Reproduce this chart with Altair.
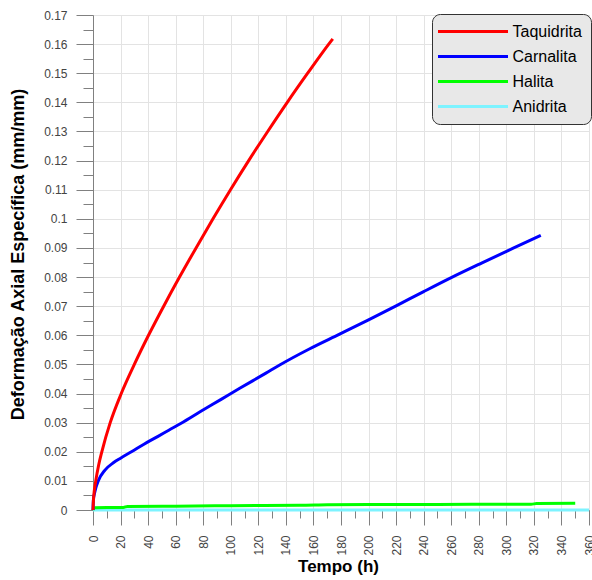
import altair as alt
import pandas as pd

# ---- data ----
series_names = ["Taquidrita", "Carnalita", "Halita", "Anidrita"]
series_colors = ["#ff0000", "#0000ff", "#00ff00", "#7df3ff"]
series_widths = [3, 3, 4, 2]

taq_t = [0, 0.3, 1, 2, 4, 6.4, 12.5, 20.5, 30, 40.3, 51.3, 62.8, 74.8, 87.1, 99.8,
         113, 126.8, 141, 155.8, 171.1, 174]
taq_v = [0, 0.0032, 0.0068, 0.0100, 0.0152, 0.020, 0.030, 0.040, 0.050, 0.060, 0.070,
         0.080, 0.090, 0.100, 0.110, 0.120, 0.130, 0.140, 0.150, 0.160, 0.1618]

car_t = [0, 0.3, 1, 2, 3.8, 8.7, 15, 20, 27.9, 37, 47.2, 55, 64, 78, 93, 106.5, 125.5,
         135.5, 157, 179, 200, 220, 240, 260, 282, 305, 325]
car_v = [0, 0.0035, 0.0055, 0.0075, 0.010, 0.0137, 0.0163, 0.0178, 0.020, 0.0226, 0.0253,
         0.0274, 0.0298, 0.0338, 0.0380, 0.0418, 0.0470, 0.0498, 0.0553, 0.0604, 0.0653,
         0.0701, 0.0750, 0.0798, 0.0848, 0.0899, 0.0943]

hal_t = [0, 1, 10, 22, 25, 60, 100, 150, 170, 200, 250, 300, 318, 322, 350]
hal_v = [0, 0.0008, 0.0009, 0.0009, 0.0012, 0.0013, 0.0015, 0.0016, 0.0018, 0.0019,
         0.0019, 0.0020, 0.0020, 0.0022, 0.0023]

ani_t = [0, 60, 120, 180, 240, 300, 360]
ani_v = [0, 0, 0, 0, 0, 0, 0]

x_tick_values = [0, 10, 20, 30, 40, 50, 60, 70, 80, 90, 100, 110, 120, 130, 140, 150, 160,
                 170, 180, 190, 200, 210, 220, 230, 240, 250, 260, 270, 280, 290, 300, 310,
                 320, 330, 340, 350, 360]
y_tick_values = [0, 0.005, 0.01, 0.015, 0.02, 0.025, 0.03, 0.035, 0.04, 0.045, 0.05, 0.055,
                 0.06, 0.065, 0.07, 0.075, 0.08, 0.085, 0.09, 0.095, 0.1, 0.105, 0.11, 0.115,
                 0.12, 0.125, 0.13, 0.135, 0.14, 0.145, 0.15, 0.155, 0.16, 0.165, 0.17]

rows = []
for name, ts, vs in [("Anidrita", ani_t, ani_v), ("Halita", hal_t, hal_v),
                     ("Carnalita", car_t, car_v), ("Taquidrita", taq_t, taq_v)]:
    for t, v in zip(ts, vs):
        rows.append({"Mineral": name, "Tempo": t, "Def": v})
df = pd.DataFrame(rows)

FONT = "Liberation Sans"
y_major = "round(datum.value*200) % 2 === 0"
x_major = "datum.value % 20 === 0"

y_axis = alt.Axis(
    values=y_tick_values,
    title="Deformação Axial Específica (mm/mm)",
    labelExpr=f"{y_major} ? format(datum.value, '.2~f') : ''",
    tickSize={"condition": {"test": y_major, "value": 17}, "value": 10},
    gridOpacity={"condition": {"test": y_major, "value": 1}, "value": 0},
    labelPadding=9, labelOverlap=False, labelFlush=False,
    labelFontSize=12, labelFont=FONT, labelColor="#444",
    tickColor="#808080", domainColor="#808080", gridColor="#e3e3e3",
    titleFont=FONT, titleFontSize=18, titleFontWeight="bold", titleColor="black",
    titleX=-75, titleY=239, titleBaseline="middle",
)
x_axis = alt.Axis(
    values=x_tick_values,
    title="Tempo (h)",
    labelExpr=f"{x_major} ? datum.label : ''",
    tickSize={"condition": {"test": x_major, "value": 15}, "value": 8},
    gridOpacity={"condition": {"test": x_major, "value": 1}, "value": 0},
    labelAngle=-90, labelPadding=10, labelOverlap=False, labelFlush=False,
    labelFontSize=12, labelFont=FONT, labelColor="#444",
    tickColor="#808080", domainColor="#808080", gridColor="#e3e3e3",
    titleFont=FONT, titleFontSize=17, titleFontWeight="bold", titleColor="black",
    titleX=245, titleY=56, titleBaseline="middle",
)

legend = alt.Legend(
    title=None, orient="none", legendX=339, legendY=-1,
    symbolType="M-5,0H5", symbolSize=196, symbolOffset=23.5,
    labelOffset=31, padding=9, rowPadding=8,
    fillColor="#e8e8e8", strokeColor="#333", cornerRadius=8,
    labelFontSize=16, labelFont=FONT, labelColor="black",
)

chart = alt.Chart(df).mark_line(clip=False, interpolate="monotone").encode(
    x=alt.X("Tempo:Q", scale=alt.Scale(domain=[0, 360], nice=False), axis=x_axis),
    y=alt.Y("Def:Q", scale=alt.Scale(domain=[0, 0.17], nice=False), axis=y_axis),
    color=alt.Color("Mineral:N", scale=alt.Scale(domain=series_names, range=series_colors),
                    legend=legend),
    strokeWidth=alt.StrokeWidth("Mineral:N",
                                scale=alt.Scale(domain=series_names, range=series_widths),
                                legend=legend),
).properties(
    width=496, height=495,
    autosize=alt.AutoSizeParams(type="none"),
    padding={"left": 93, "top": 15, "right": 3, "bottom": 70},
).configure_view(stroke="#333", strokeWidth=1).configure(font=FONT, background="white")

chart.save("out.html", embed_options={"renderer": "svg", "actions": False})
